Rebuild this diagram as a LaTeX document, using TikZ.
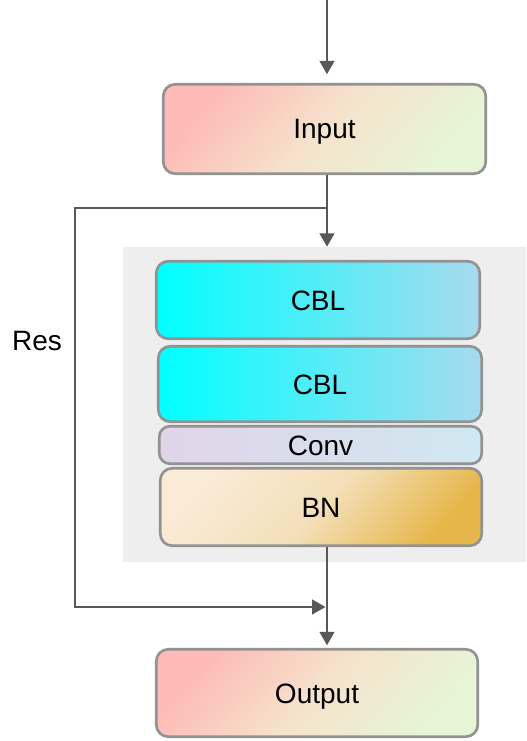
\documentclass[tikz,border=0pt]{standalone}
\usepackage{fontspec}
\setmainfont{Liberation Sans}
\usetikzlibrary{arrows.meta,calc}
\definecolor{bordergray}{HTML}{929292}
\definecolor{linegray}{HTML}{585858}
\definecolor{panelgray}{HTML}{EEEEEE}
\definecolor{pinkA}{HTML}{FDBAB6}
\definecolor{beigeA}{HTML}{F5E3CD}
\definecolor{greenA}{HTML}{E6F5D6}
\definecolor{cyanA}{HTML}{00FFFF}
\definecolor{blueA}{HTML}{A8DAEE}
\definecolor{lavA}{HTML}{E1D4E8}
\definecolor{lblueA}{HTML}{D0E8F1}
\definecolor{creamA}{HTML}{FAEBD7}
\definecolor{midgoldA}{HTML}{F3DFB8}
\definecolor{goldA}{HTML}{E6B64A}
\begin{document}
\begin{tikzpicture}[x=0.75pt,y=-0.75pt,
  box/.style={draw=bordergray, line width=2pt, rounded corners=9pt, inner sep=0pt,
    font=\fontsize{21}{25}\selectfont, text=black, text height=15pt, text depth=0pt},
  io/.style={box, shading=axis, top color=pinkA, bottom color=greenA, middle color=beigeA, shading angle=48},
  cbl/.style={box, left color=cyanA, right color=blueA},
  convbox/.style={box, left color=lavA, right color=lblueA, rounded corners=8pt},
  bnbox/.style={box, shading=axis, top color=creamA, bottom color=goldA, middle color=midgoldA, shading angle=48},
  arr/.style={draw=linegray, line width=1.5pt, -{Triangle[length=10pt,width=11pt]}},
  lbl/.style={font=\fontsize{21}{25}\selectfont, text=black, text height=15pt, text depth=0pt}
]
\useasboundingbox (0,0) rectangle (526,741);
\node[fill=panelgray, draw=none, inner sep=0pt, minimum width=302.25pt, minimum height=236.25pt] (panel) at (324.5,404.5) {};
\node[io, minimum width=241.9pt, minimum height=67.1pt] (in) at (324.5,129) {Input};
\node[cbl, minimum width=242.6pt, minimum height=58.1pt] (cbl1) at (318,300) {CBL};
\node[cbl, minimum width=242.6pt, minimum height=56.6pt] (cbl2) at (320,384) {CBL};
\node[convbox, minimum width=241.9pt, minimum height=28.1pt] (conv) at (320.5,445) {Conv};
\node[bnbox, minimum width=241.1pt, minimum height=58.1pt] (bn) at (321,507) {BN};
\node[io, minimum width=241.1pt, minimum height=65.6pt] (out) at (317,693) {Output};
\node[lbl] (res) at (37,340) {Res};
\coordinate (src) at (327,0);
\coordinate (mx) at (327,0);
\coordinate (br) at (327,208);
\coordinate (rb) at (75,607);
\coordinate (jn) at (325.5,607);
\draw[arr, shorten >=6.5pt] (src) -- (src |- in.north);
\draw[arr] (mx |- in.south) -- (mx |- panel.north);
\draw[arr] (br) -| (rb) -- (jn);
\draw[arr, shorten >=2pt] (mx |- bn.south) -- (mx |- out.north);
\end{tikzpicture}
\end{document}
